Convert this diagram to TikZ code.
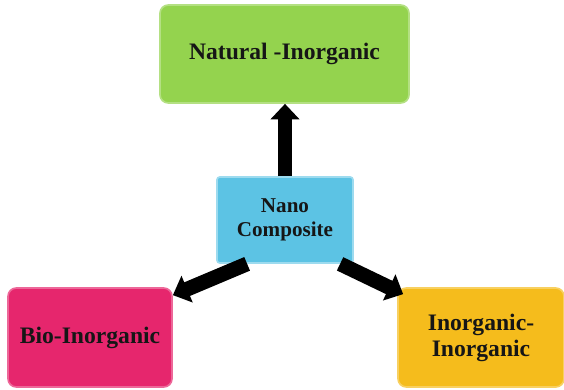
\documentclass[tikz,border=0pt]{standalone}
\usepackage{fontspec}
\setmainfont{Liberation Serif}
\usepackage{xcolor}
\usepackage{tikz}
\usetikzlibrary{calc,arrows.meta}
\definecolor{natgreen}{HTML}{94D34E}
\definecolor{nanoblue}{HTML}{5CC3E4}
\definecolor{biopink}{HTML}{E6266D}
\definecolor{inoryellow}{HTML}{F5BC1C}
\definecolor{ink}{HTML}{161616}
\tikzset{
  box/.style={rounded corners=6pt, inner sep=0pt, align=center, text=ink,
    line width=1.2pt, font=\fontsize{16.8}{18.5}\selectfont\bfseries},
  arr/.style={draw=black, line width=10.5pt, -{Triangle[width=20pt,length=11pt]}}
}

\begin{document}
\begin{tikzpicture}[x=0.025cm,y=-0.025cm]
  \useasboundingbox (0,0) rectangle (564,389);

  \node[box, fill=natgreen, draw=natgreen!70!white, minimum width=6.225cm, minimum height=2.45cm] (natural) at (284.5,54) {Natural -Inorganic};
  \node[box, fill=nanoblue, draw=nanoblue!60!white, rounded corners=2pt, minimum width=3.4cm, minimum height=2.15cm,
    font=\fontsize{15}{17}\selectfont\bfseries] (nano) at (285,220) {Nano\\Composite};
  \node[box, fill=biopink, draw=biopink!70!white, minimum width=4.1cm, minimum height=2.475cm] (bio) at (90,337.5) {Bio-Inorganic};
  \node[box, fill=inoryellow, draw=inoryellow!70!white, minimum width=4.15cm, minimum height=2.475cm] (inor) at (481,337.5) {Inorganic-\\Inorganic};

  \draw[arr] (nano.north) -- (nano.north |- natural.south);
  \draw[arr] ($(nano.south)!0.55!(nano.south west)$) -- ($(bio.north east)+(0,8)$); % tip on the corner
  \draw[arr] ($(nano.south)!0.8!(nano.south east)$) -- ($(inor.north west)+(6,7)$);
\end{tikzpicture}
\end{document}
